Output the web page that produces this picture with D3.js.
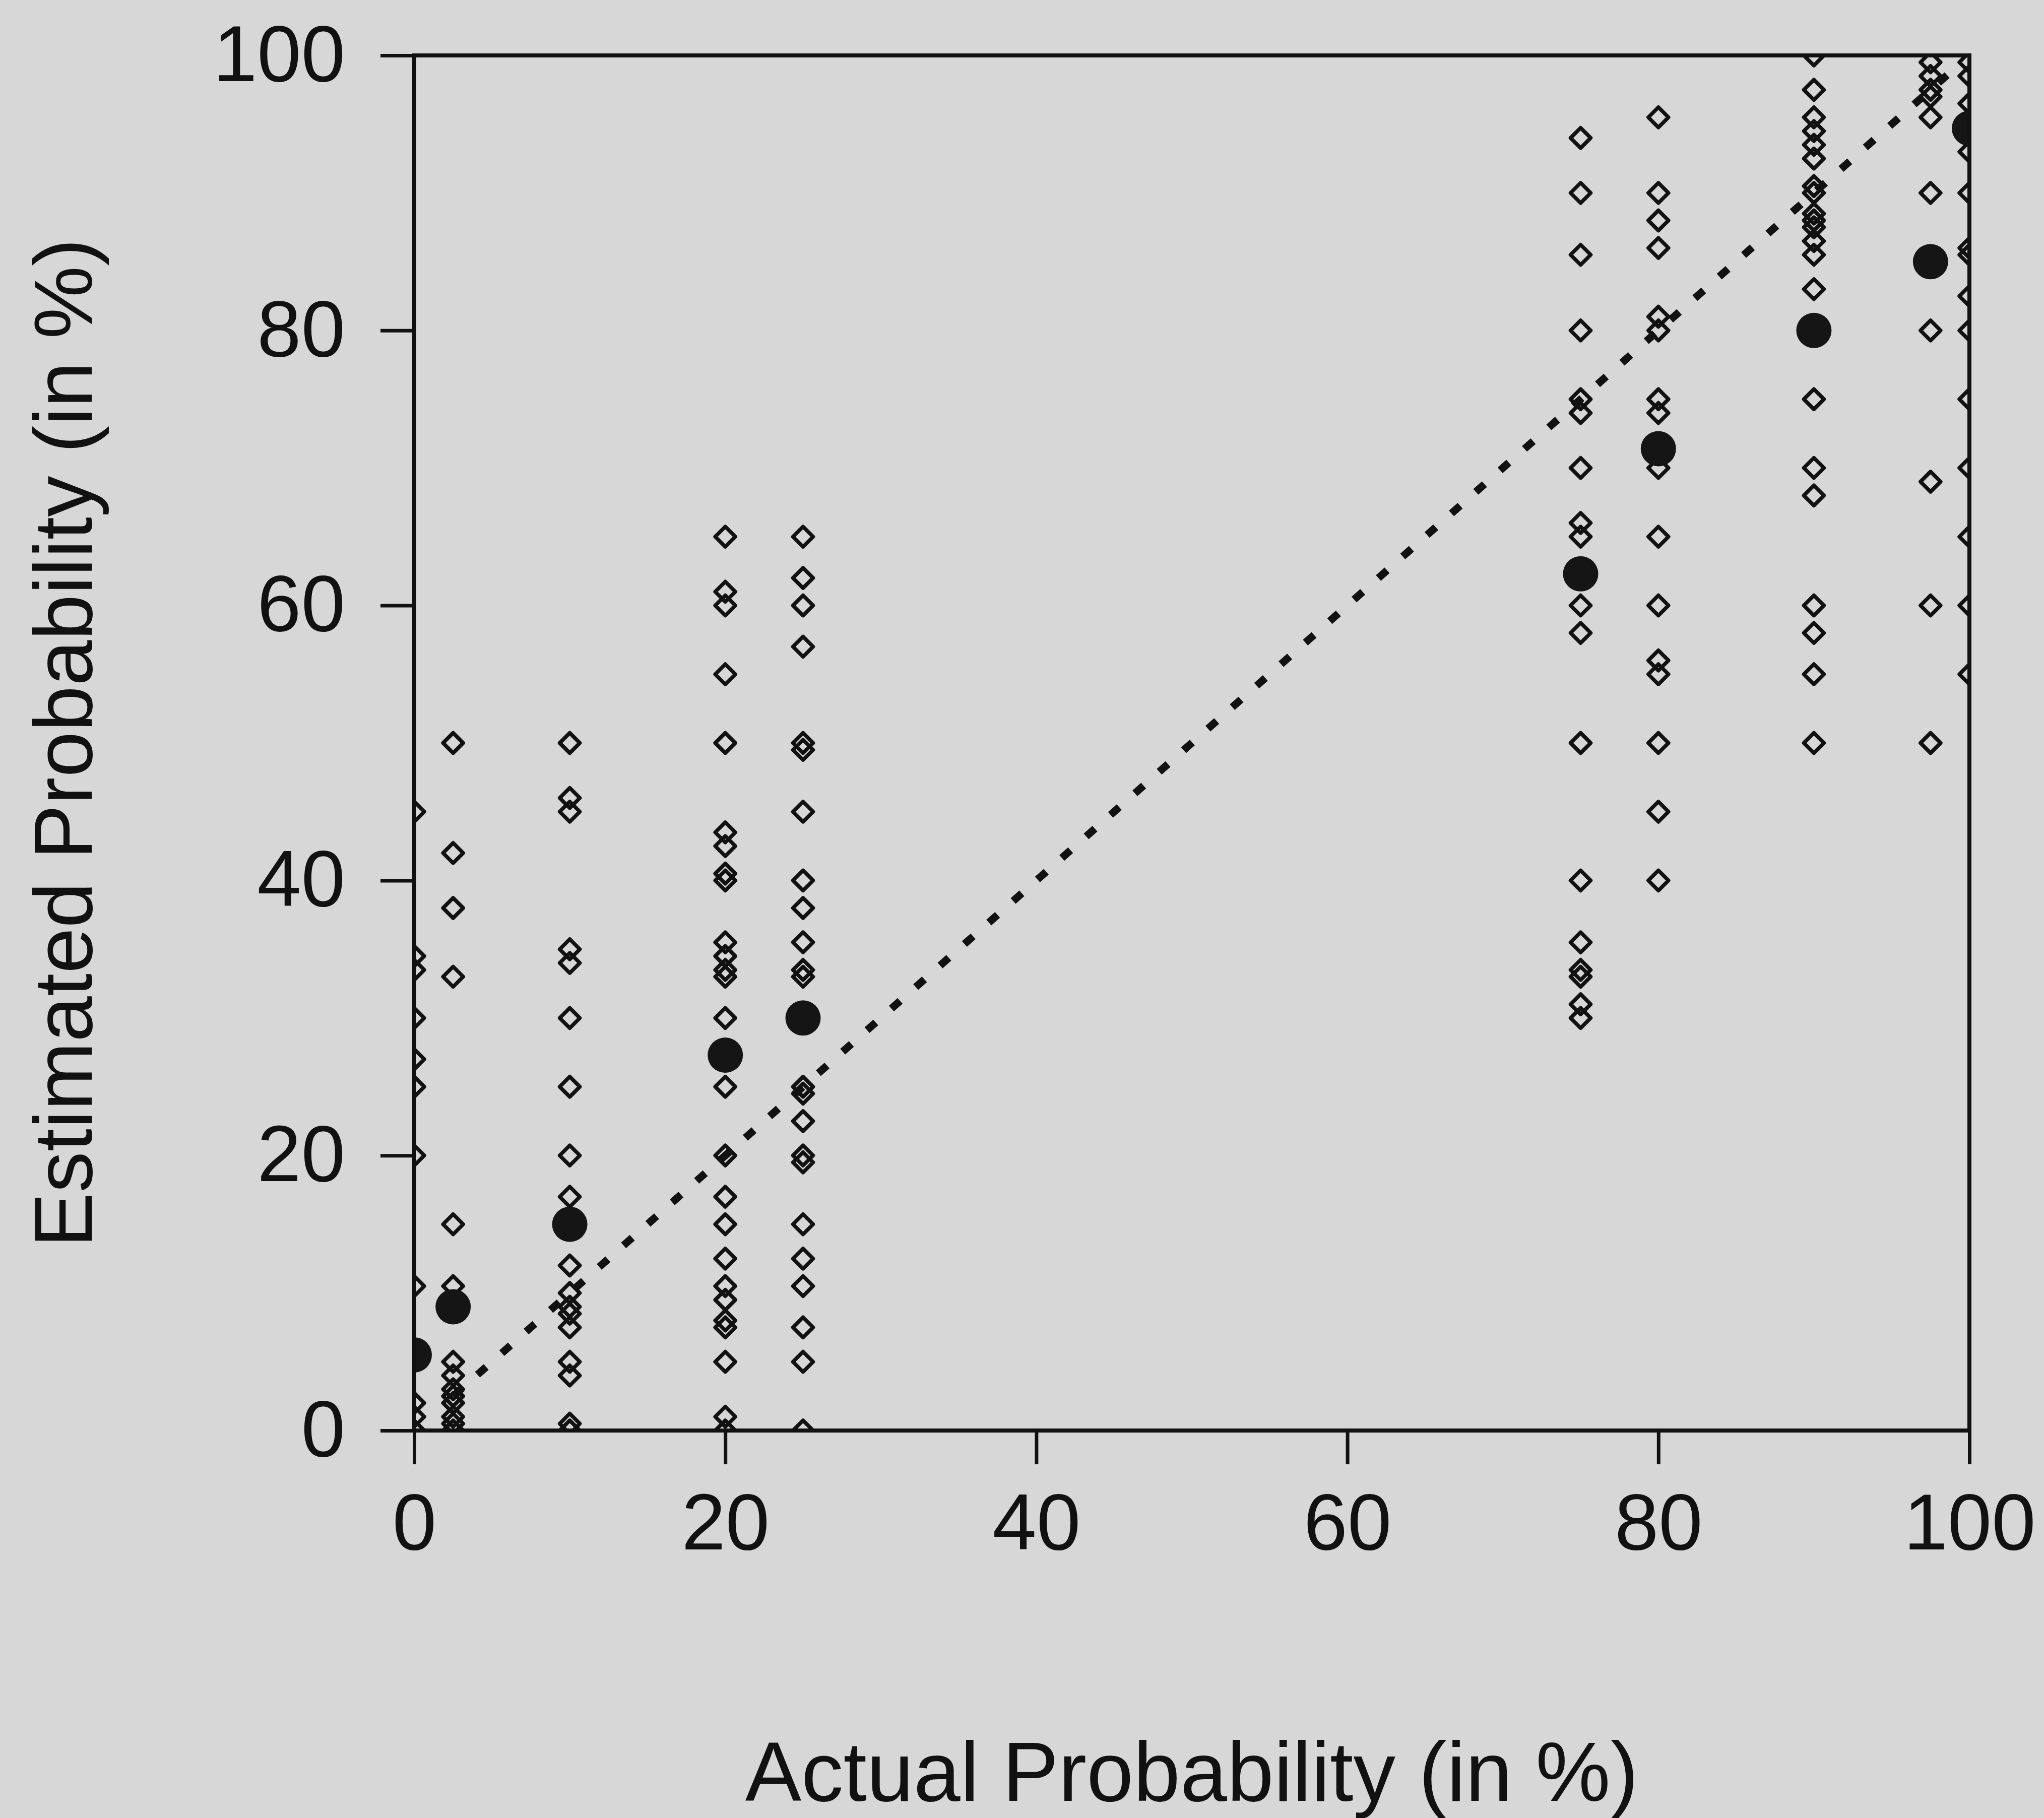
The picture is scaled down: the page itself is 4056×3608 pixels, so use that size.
<!DOCTYPE html>
<html>
<head>
<meta charset="utf-8">
<script src="https://cdn.jsdelivr.net/npm/d3@7"></script>
<style>
  html, body { margin: 0; padding: 0; background: #d7d7d7; }
  svg { display: block; }
  text { font-family: "Liberation Sans", Arial, sans-serif; fill: #111; }
</style>
</head>
<body>
<script>
// ---------- data ----------
const xTicks = [0, 20, 40, 60, 80, 100];
const yTicks = [0, 20, 40, 60, 80, 100];

// actual probability levels (x) and individual estimates (y) per level
const actualLevels = [0, 2.5, 10, 20, 25, 75, 80, 90, 97.5, 100];
const est0    = [45, 34.5, 33.5, 30, 27, 25, 20, 10.5, 2, 1, 0];
const est2_5  = [50, 42, 38, 33, 15, 10.5, 5, 4, 3, 2.5, 2, 1, 0.5, 0];
const est10   = [50, 46, 45, 35, 34, 30, 25, 20, 17, 12, 10, 9, 8.5, 7.5, 5, 4, 0.5, 0];
const est20   = [65, 61, 60, 55, 50, 43.5, 42.5, 40.5, 40, 35.5, 34.5, 33.5, 33, 30, 25, 20, 17, 15, 12.5, 10.5, 9.5, 8, 7.5, 5, 1, 0];
const est25   = [65, 62, 60, 57, 50, 49.5, 45, 40, 38, 35.5, 33.5, 33, 25, 24.5, 22.5, 20, 19.5, 15, 12.5, 10.5, 7.5, 5, 0];
const est75   = [94, 90, 85.5, 80, 75, 74, 70, 66, 65, 60, 58, 50, 40, 35.5, 33.5, 33, 31, 30];
const est80   = [95.5, 90, 88, 86, 81, 80, 75, 74, 70, 65, 60, 56, 55, 50, 45, 40];
const est90   = [100, 97.5, 95.5, 94.5, 93.5, 92.5, 90.5, 90, 88.5, 88, 87.5, 86.5, 85.5, 83, 75, 70, 68, 60, 58, 55, 50];
const est97_5 = [99.5, 98.5, 97.5, 97, 95.5, 90, 80, 69, 60, 50];
const est100  = [99.5, 98.5, 96.5, 93, 90, 86, 85.5, 82.5, 80, 75, 70, 65, 60, 55];
const estimatesByLevel = [est0, est2_5, est10, est20, est25, est75, est80, est90, est97_5, est100];

// mean estimate per level (filled circles)
const meanEstimates = [5.5, 9, 15, 27.3, 30, 62.3, 71.4, 80, 85, 94.7];

// perfect-calibration reference line (dotted)
const diagonalRange = [2.5, 99];

// ---------- layout ----------
const W = 4056, H = 3608;
const plot = { left: 822, right: 3908, top: 110, bottom: 2839 };

const x = d3.scaleLinear().domain([0, 100]).range([plot.left, plot.right]);
const y = d3.scaleLinear().domain([0, 100]).range([plot.bottom, plot.top]);

const svg = d3.select("body").append("svg")
  .attr("width", W).attr("height", H)
  .attr("viewBox", `0 0 ${W} ${H}`);

svg.append("rect").attr("width", W).attr("height", H).attr("fill", "#d7d7d7");

svg.append("defs").append("clipPath").attr("id", "plotclip")
  .append("rect")
  .attr("x", plot.left).attr("y", plot.top)
  .attr("width", plot.right - plot.left).attr("height", plot.bottom - plot.top);

const points = [];
actualLevels.forEach((a, i) => estimatesByLevel[i].forEach(e => points.push({ a, e })));

const g = svg.append("g").attr("clip-path", "url(#plotclip)");

// open diamonds
const r = 20;
g.selectAll("path.diamond").data(points).join("path")
  .attr("class", "diamond")
  .attr("d", d => {
    const cx = x(d.a), cy = y(d.e);
    return `M${cx},${cy - r}L${cx + r},${cy}L${cx},${cy + r}L${cx - r},${cy}Z`;
  })
  .attr("fill", "none")
  .attr("stroke", "#111")
  .attr("stroke-width", 7.5)
  .attr("stroke-linejoin", "round");

// dotted identity line
g.append("path")
  .datum(diagonalRange)
  .attr("d", d3.line().x(v => x(v)).y(v => y(v)))
  .attr("fill", "none")
  .attr("stroke", "#111")
  .attr("stroke-width", 15)
  .attr("stroke-dasharray", "23 41.5");

// filled mean circles
g.selectAll("circle.mean").data(actualLevels.map((a, i) => ({ a, m: meanEstimates[i] }))).join("circle")
  .attr("class", "mean")
  .attr("cx", d => x(d.a)).attr("cy", d => y(d.m))
  .attr("r", 35)
  .attr("fill", "#151515");

// frame
svg.append("rect")
  .attr("x", plot.left).attr("y", plot.top)
  .attr("width", plot.right - plot.left).attr("height", plot.bottom - plot.top)
  .attr("fill", "none").attr("stroke", "#111").attr("stroke-width", 8);

// axes
const xAxis = svg.append("g")
  .attr("transform", `translate(0,${plot.bottom})`)
  .call(d3.axisBottom(x).tickValues(xTicks).tickSize(67).tickPadding(58).tickFormat(d3.format("d")));
const yAxis = svg.append("g")
  .attr("transform", `translate(${plot.left},0)`)
  .call(d3.axisLeft(y).tickValues(yTicks).tickSize(67).tickPadding(70).tickFormat(d3.format("d")));

[xAxis, yAxis].forEach(ax => {
  ax.select(".domain").remove();
  ax.selectAll(".tick line").attr("stroke", "#111").attr("stroke-width", 7);
  ax.selectAll(".tick text")
    .attr("fill", "#111")
    .style("font-family", '"Liberation Sans", Arial, sans-serif')
    .style("font-size", "157px");
});

// titles
svg.append("text")
  .attr("x", (plot.left + plot.right) / 2).attr("y", 3574)
  .attr("text-anchor", "middle")
  .style("font-size", "167px")
  .text("Actual Probability (in %)");

svg.append("text")
  .attr("transform", `translate(182,${(plot.top + plot.bottom) / 2}) rotate(-90)`)
  .attr("text-anchor", "middle")
  .style("font-size", "163px")
  .text("Estimated Probability (in %)");
</script>
</body>
</html>
